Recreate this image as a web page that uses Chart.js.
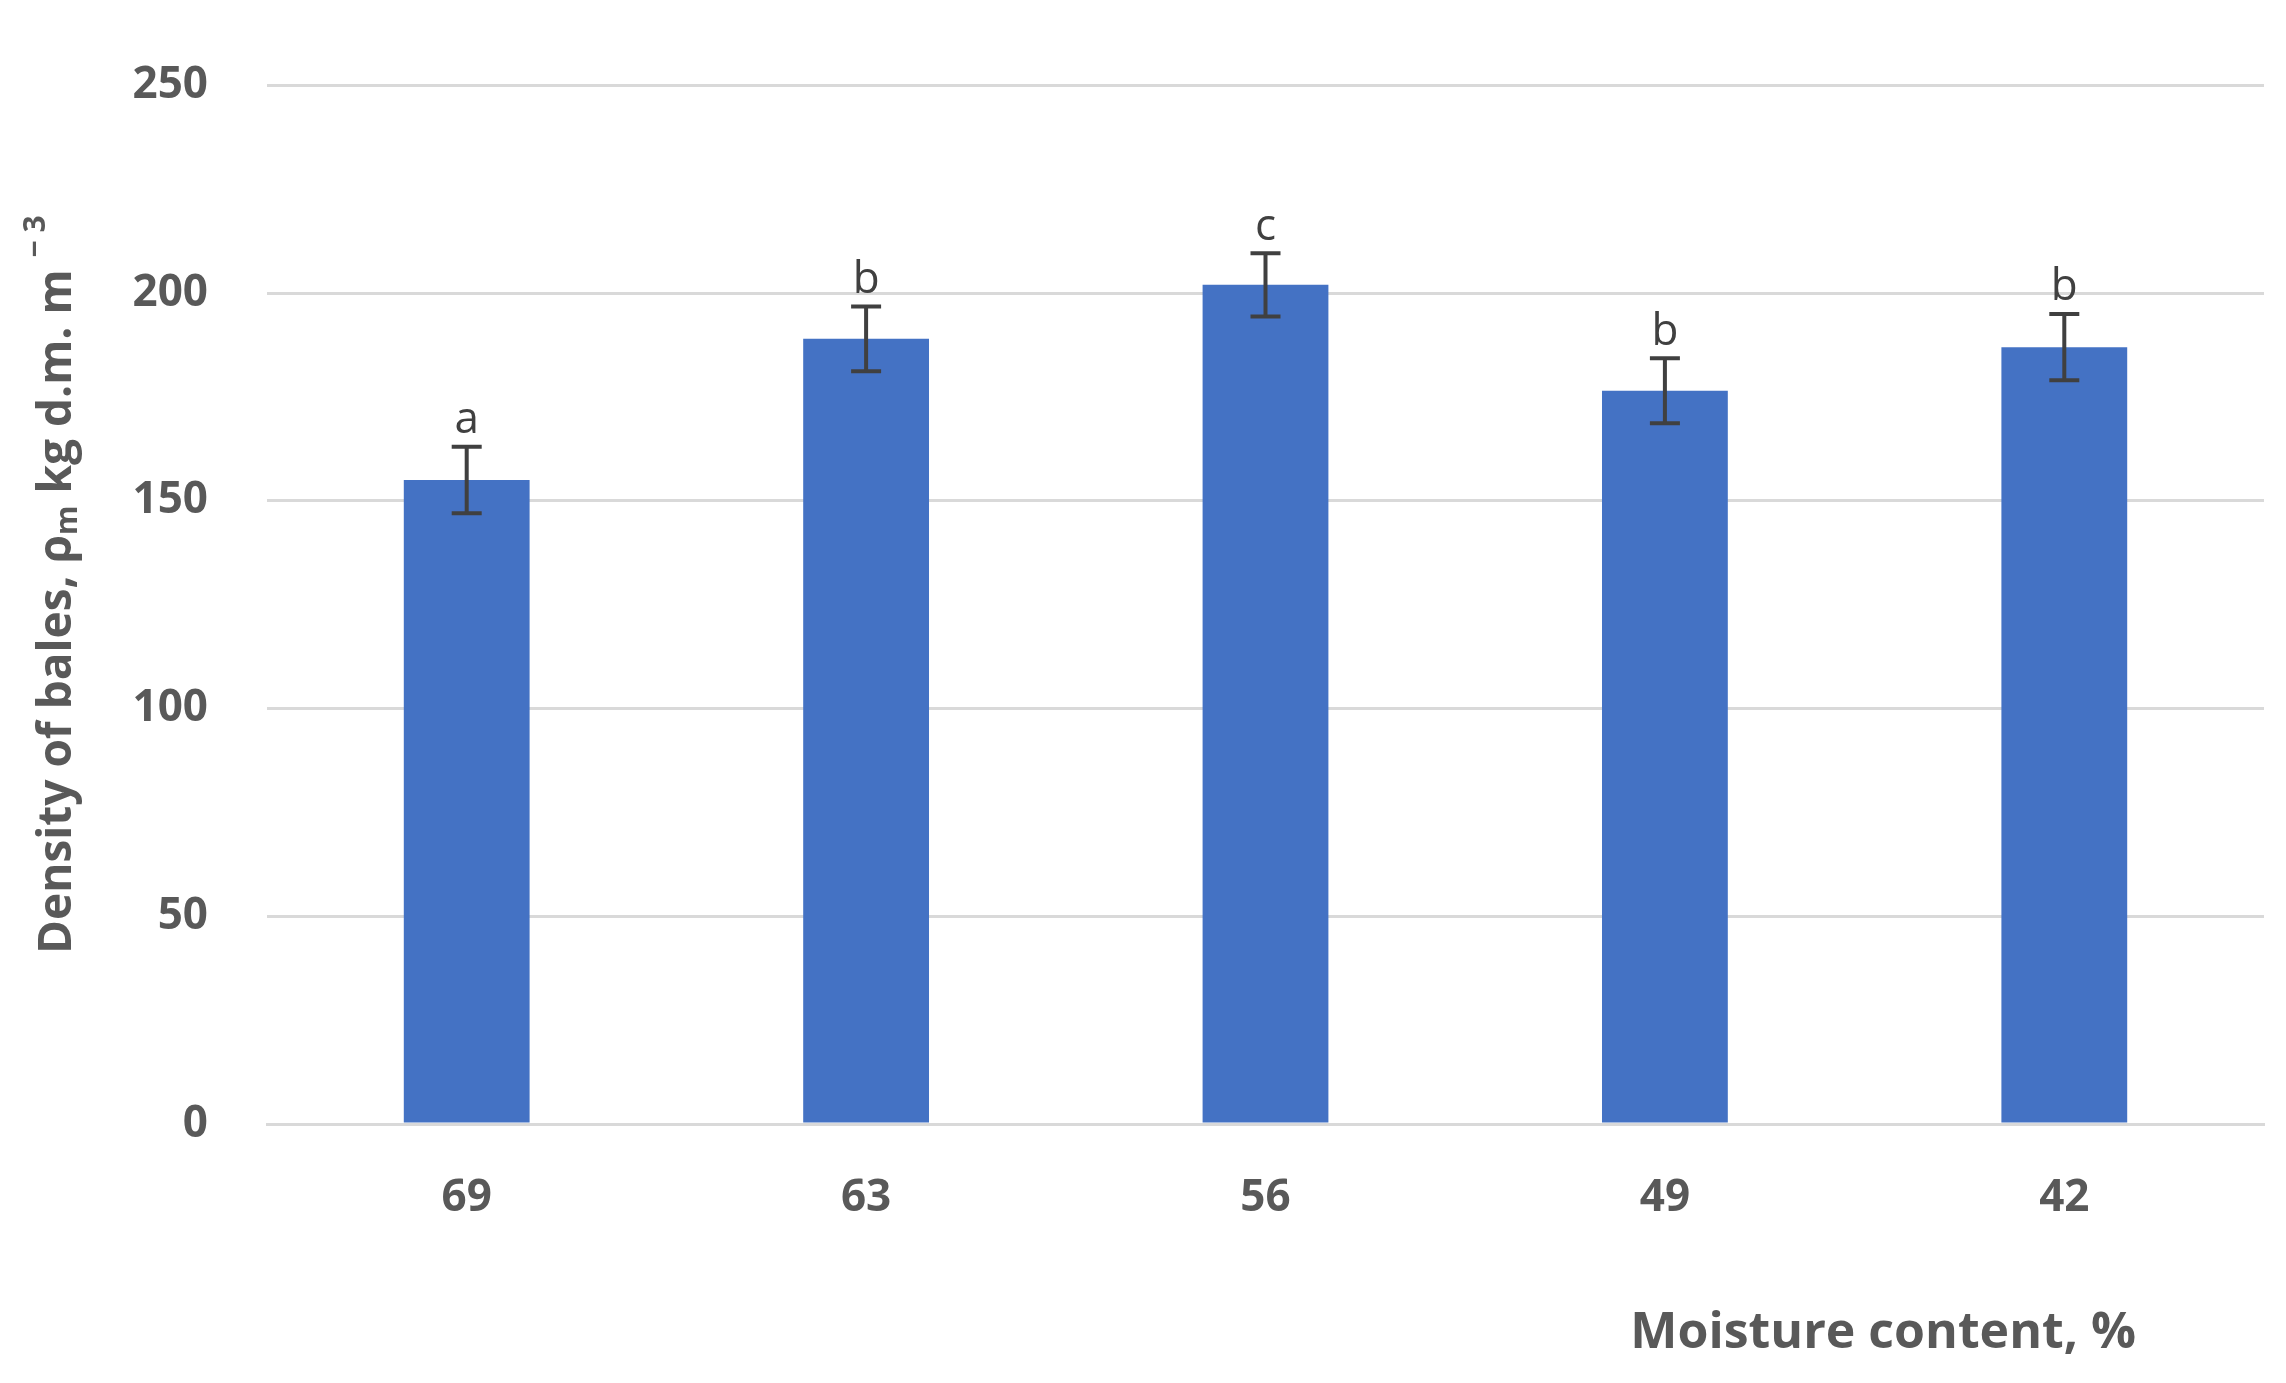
<!DOCTYPE html>
<html>
<head>
<meta charset="utf-8">
<script src="https://cdn.jsdelivr.net/npm/chart.js@4/dist/chart.umd.min.js"></script>
<style>
  html, body { margin: 0; padding: 0; background: #fff; }
  #wrap { width: 2286px; height: 1383px; }
</style>
</head>
<body>
<div id="wrap"><canvas id="chart"></canvas></div>
<script>
const categories = ['69', '63', '56', '49', '42'];
const densities = [155, 189, 202, 176.5, 187];
const errors = [8, 7.8, 7.6, 7.8, 8];
const groupLetters = ['a', 'b', 'c', 'b', 'b'];
const yTicks = [0, 50, 100, 150, 200, 250];

const grey = '#595959';
const font = '"Open Sans", "DejaVu Sans", sans-serif';

// Error bars, significance letters and axis titles
const annotations = {
    id: 'annotations',
    afterDatasetsDraw(chart) {
        const ctx = chart.ctx;
        const x = chart.scales.x;
        const y = chart.scales.y;
        ctx.save();
        ctx.strokeStyle = '#404040';
        ctx.lineWidth = 4;
        densities.forEach(function(v, i) {
            const cx = x.getPixelForValue(i);
            const top = y.getPixelForValue(v + errors[i]);
            const bot = y.getPixelForValue(v - errors[i]);
            ctx.beginPath();
            ctx.moveTo(cx, top); ctx.lineTo(cx, bot);
            ctx.moveTo(cx - 15, top); ctx.lineTo(cx + 15, top);
            ctx.moveTo(cx - 15, bot); ctx.lineTo(cx + 15, bot);
            ctx.stroke();
            ctx.fillStyle = '#404040';
            ctx.font = '44px ' + font;
            ctx.textAlign = 'center';
            ctx.textBaseline = 'bottom';
            ctx.fillText(groupLetters[i], cx, top - 4);
        });

        // x title
        ctx.fillStyle = grey;
        ctx.font = 'bold 50px ' + font;
        ctx.textAlign = 'right';
        ctx.textBaseline = 'middle';
        ctx.fillText('Moisture content, %', 2136, 1334);

        // y title with sub/superscript
        ctx.translate(58, chart.chartArea.top + (chart.chartArea.bottom - chart.chartArea.top) / 2 - 20);
        ctx.rotate(-Math.PI / 2);
        const parts = [
            ['Density of bales, ρ', 46, 0],
            ['m', 30, 10],
            [' kg d.m. m ', 46, 0],
            ['\u2212 3', 30, -22]
        ];
        let total = 0;
        parts.forEach(function(p) { ctx.font = 'bold ' + p[1] + 'px ' + font; total += ctx.measureText(p[0]).width; });
        let px = -total / 2;
        ctx.textAlign = 'left';
        parts.forEach(function(p) {
            ctx.font = 'bold ' + p[1] + 'px ' + font;
            ctx.fillText(p[0], px, p[2]);
            px += ctx.measureText(p[0]).width;
        });
        ctx.restore();
    }
};

new Chart(document.getElementById('chart'), {
    type: 'bar',
    data: {
        labels: categories,
        datasets: [{
            data: densities,
            backgroundColor: '#4472C4',
            categoryPercentage: 1,
            barPercentage: 0.315
        }]
    },
    options: {
        responsive: true,
        maintainAspectRatio: false,
        animation: false,
        layout: { padding: { top: 30, right: 22, left: 0, bottom: 0 } },
        plugins: { legend: { display: false }, tooltip: { enabled: false } },
        scales: {
            x: {
                grid: { display: false },
                border: { color: '#d9d9d9', width: 3 },
                ticks: { color: grey, font: { family: font, size: 44, weight: 'bold' }, padding: 40 },
                afterFit: function(s) { s.height = 259; }
            },
            y: {
                min: 0, max: 250,
                afterBuildTicks: function(s) { s.ticks = yTicks.map(function(v) { return { value: v }; }); },
                grid: { color: '#d9d9d9', lineWidth: 3, drawTicks: false },
                border: { display: false },
                ticks: { color: grey, font: { family: font, size: 44, weight: 'bold' }, padding: 59 },
                afterFit: function(s) { s.width = 267; }
            }
        }
    },
    plugins: [annotations]
});
</script>
</body>
</html>
